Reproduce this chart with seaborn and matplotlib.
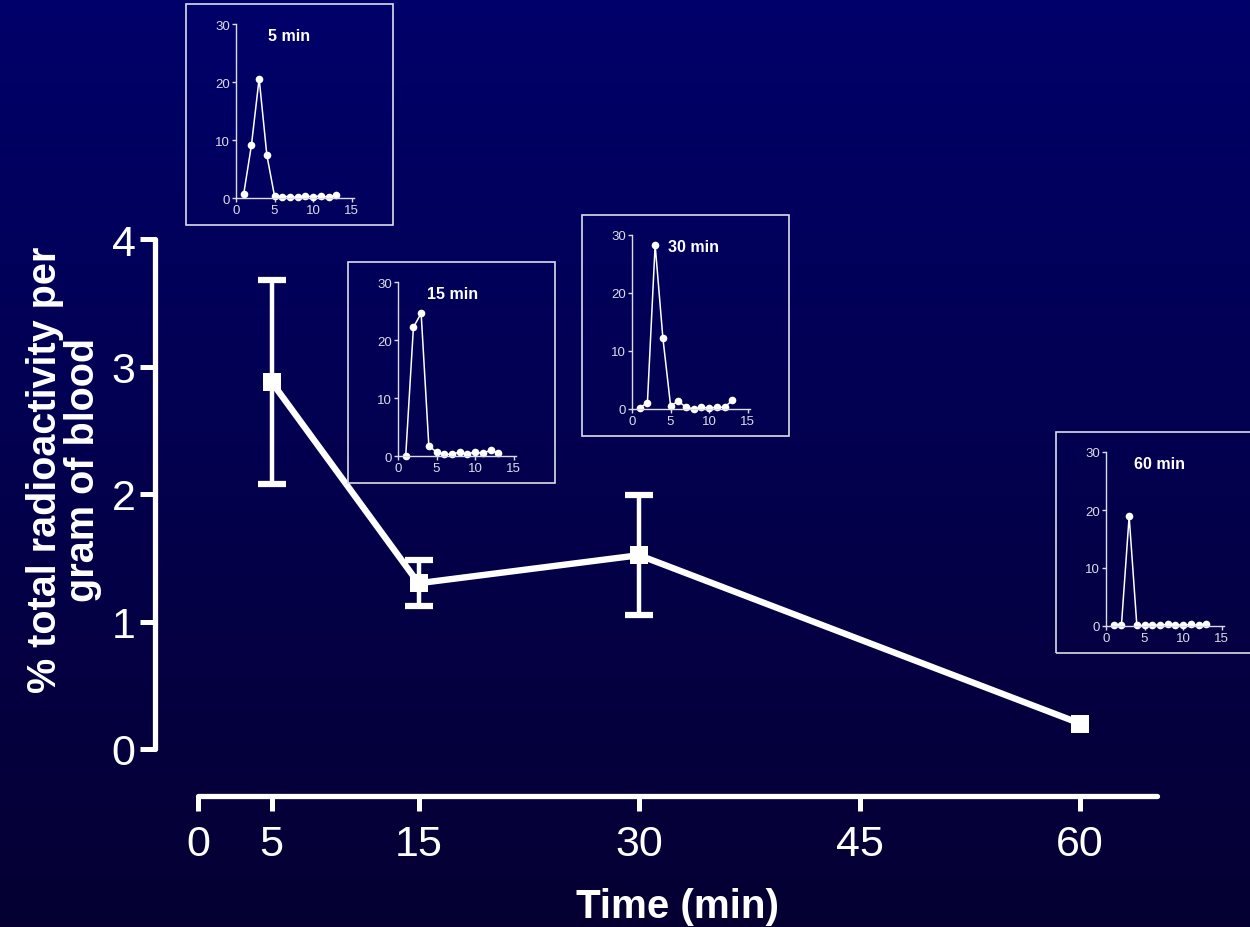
import numpy as np
import pandas as pd
import seaborn as sns
import matplotlib.pyplot as plt
from matplotlib.patches import Rectangle
from matplotlib.colors import LinearSegmentedColormap

# main curve: % total radioactivity per gram of blood
time_min = [5, 15, 30, 60]
blood_pct = [2.88, 1.30, 1.52, 0.20]
blood_err = [0.80, 0.18, 0.47, None]

# inset chromatograms (fraction number vs % radioactivity)
fractions = list(range(1, 14))
profile_5 = [0.7, 9.1, 20.6, 7.4, 0.3, 0.25, 0.25, 0.1, 0.35, 0.2, 0.4, 0.1, 0.5]
profile_15 = [0.0, 22.2, 24.6, 1.7, 0.7, 0.3, 0.3, 0.7, 0.35, 0.7, 0.45, 1.0, 0.5]
profile_30 = [0.2, 1.1, 28.3, 12.3, 0.6, 1.3, 0.35, 0.0, 0.3, 0.15, 0.3, 0.3, 1.5]
profile_60 = [0.25, 0.1, 18.9, 0.1, 0.1, 0.25, 0.1, 0.3, 0.25, 0.1, 0.3, 0.1, 0.4]
inset_titles = ["5 min", "15 min", "30 min", "60 min"]
inset_title_x = [6.9, 7.1, 8.0, 7.0]

W, H, DPI = 1250, 928, 100

sns.set_theme(style="white")
plt.rcParams["font.family"] = ["Liberation Sans", "DejaVu Sans"]

fig = plt.figure(figsize=(W / DPI, H / DPI), dpi=DPI)


def px_axes(left, bottom, width, height, **kw):
    # pixel box (top-left origin) -> figure fraction
    return fig.add_axes(
        [left / W, 1 - bottom / H, width / W, height / H], **kw
    )


# background gradient
bg = fig.add_axes([0, 0, 1, 1], zorder=-10)
cmap = LinearSegmentedColormap.from_list("bg", ["#060032", "#00006a"])
bg.imshow(np.linspace(0, 1, 256).reshape(-1, 1), aspect="auto", cmap=cmap,
          origin="lower", extent=[0, 1, 0, 1])
bg.set_axis_off()

# main axes
ax = px_axes(198, 750, 963, 510)
ax.set_facecolor("none")
df = pd.DataFrame({"time": time_min, "pct": blood_pct})
sns.lineplot(data=df, x="time", y="pct", ax=ax, color="white", linewidth=4.6,
             marker="s", markersize=13, markeredgewidth=0, zorder=5)
err_df = pd.DataFrame({"time": time_min, "pct": blood_pct, "err": blood_err}).dropna()
ax.errorbar(err_df["time"], err_df["pct"], yerr=err_df["err"], fmt="none",
            ecolor="white", elinewidth=3.2, capsize=10, capthick=4.5, zorder=4)

ax.set_xlim(0, 65.5)
ax.set_ylim(0, 4)
ax.set_xticks([0, 5, 15, 30, 45, 60])
ax.set_yticks([0, 1, 2, 3, 4])
for side in ["top", "right"]:
    ax.spines[side].set_visible(False)
ax.spines["left"].set_position(("outward", 31))
ax.spines["bottom"].set_position(("outward", 34))
ax.spines["left"].set_bounds(0, 4)
ax.spines["bottom"].set_bounds(0, 65.2)
for side in ["left", "bottom"]:
    ax.spines[side].set_color("white")
    ax.spines[side].set_linewidth(3.8)
    ax.spines[side].set_capstyle("round")
ax.tick_params(axis="both", colors="white", length=11, width=3.6,
               labelsize=31, direction="out", bottom=True, left=True)
ax.tick_params(axis="y", pad=3)
ax.tick_params(axis="x", pad=9)
ax.set_xlabel("")
ax.set_ylabel("")

fig.text(677 / W, 1 - 907 / H, "Time (min)", color="white", fontsize=29,
         fontweight="bold", ha="center", va="center")
fig.text(64 / W, 1 - 470 / H, "% total radioactivity per\ngram of blood",
         color="white", fontsize=28.5, fontweight="bold", rotation=90,
         ha="center", va="center", linespacing=1.0, multialignment="center")

# insets: (axes left px, axes bottom px)
inset_pos = [(236, 199), (398, 457), (632, 410), (1106, 627)]
profiles = [profile_5, profile_15, profile_30, profile_60]
inset_grey = "#dcdce8"

for (lx, by), prof, title, tx in zip(inset_pos, profiles, inset_titles, inset_title_x):
    fig.patches.append(Rectangle(((lx - 50) / W, 1 - (by + 27) / H), 207 / W, 221 / H,
                                 transform=fig.transFigure, fill=False,
                                 edgecolor=inset_grey, linewidth=1.2, zorder=1))
    iax = px_axes(lx, by, 118, 174)
    iax.set_facecolor("none")
    pdf = pd.DataFrame({"fraction": fractions, "pct": prof})
    sns.lineplot(data=pdf, x="fraction", y="pct", ax=iax, color="white",
                 linewidth=1.1, marker="o", markersize=5.5, markeredgewidth=0,
                 clip_on=False)
    iax.set_xlim(0, 15.3)
    iax.set_ylim(0, 30)
    iax.set_xticks([0, 5, 10, 15])
    iax.set_yticks([0, 10, 20, 30])
    for side in ["top", "right"]:
        iax.spines[side].set_visible(False)
    for side in ["left", "bottom"]:
        iax.spines[side].set_color(inset_grey)
        iax.spines[side].set_linewidth(1.0)
    iax.tick_params(axis="both", colors=inset_grey, labelcolor=inset_grey,
                    length=3, width=1.0, labelsize=9.5, pad=1.5, direction="out",
                    bottom=True, left=True)
    iax.set_xlabel("")
    iax.set_ylabel("")
    iax.text(tx, 28, title, color="white", fontsize=11.5, fontweight="bold",
             ha="center", va="center")

fig.savefig("out.png", dpi=DPI)
